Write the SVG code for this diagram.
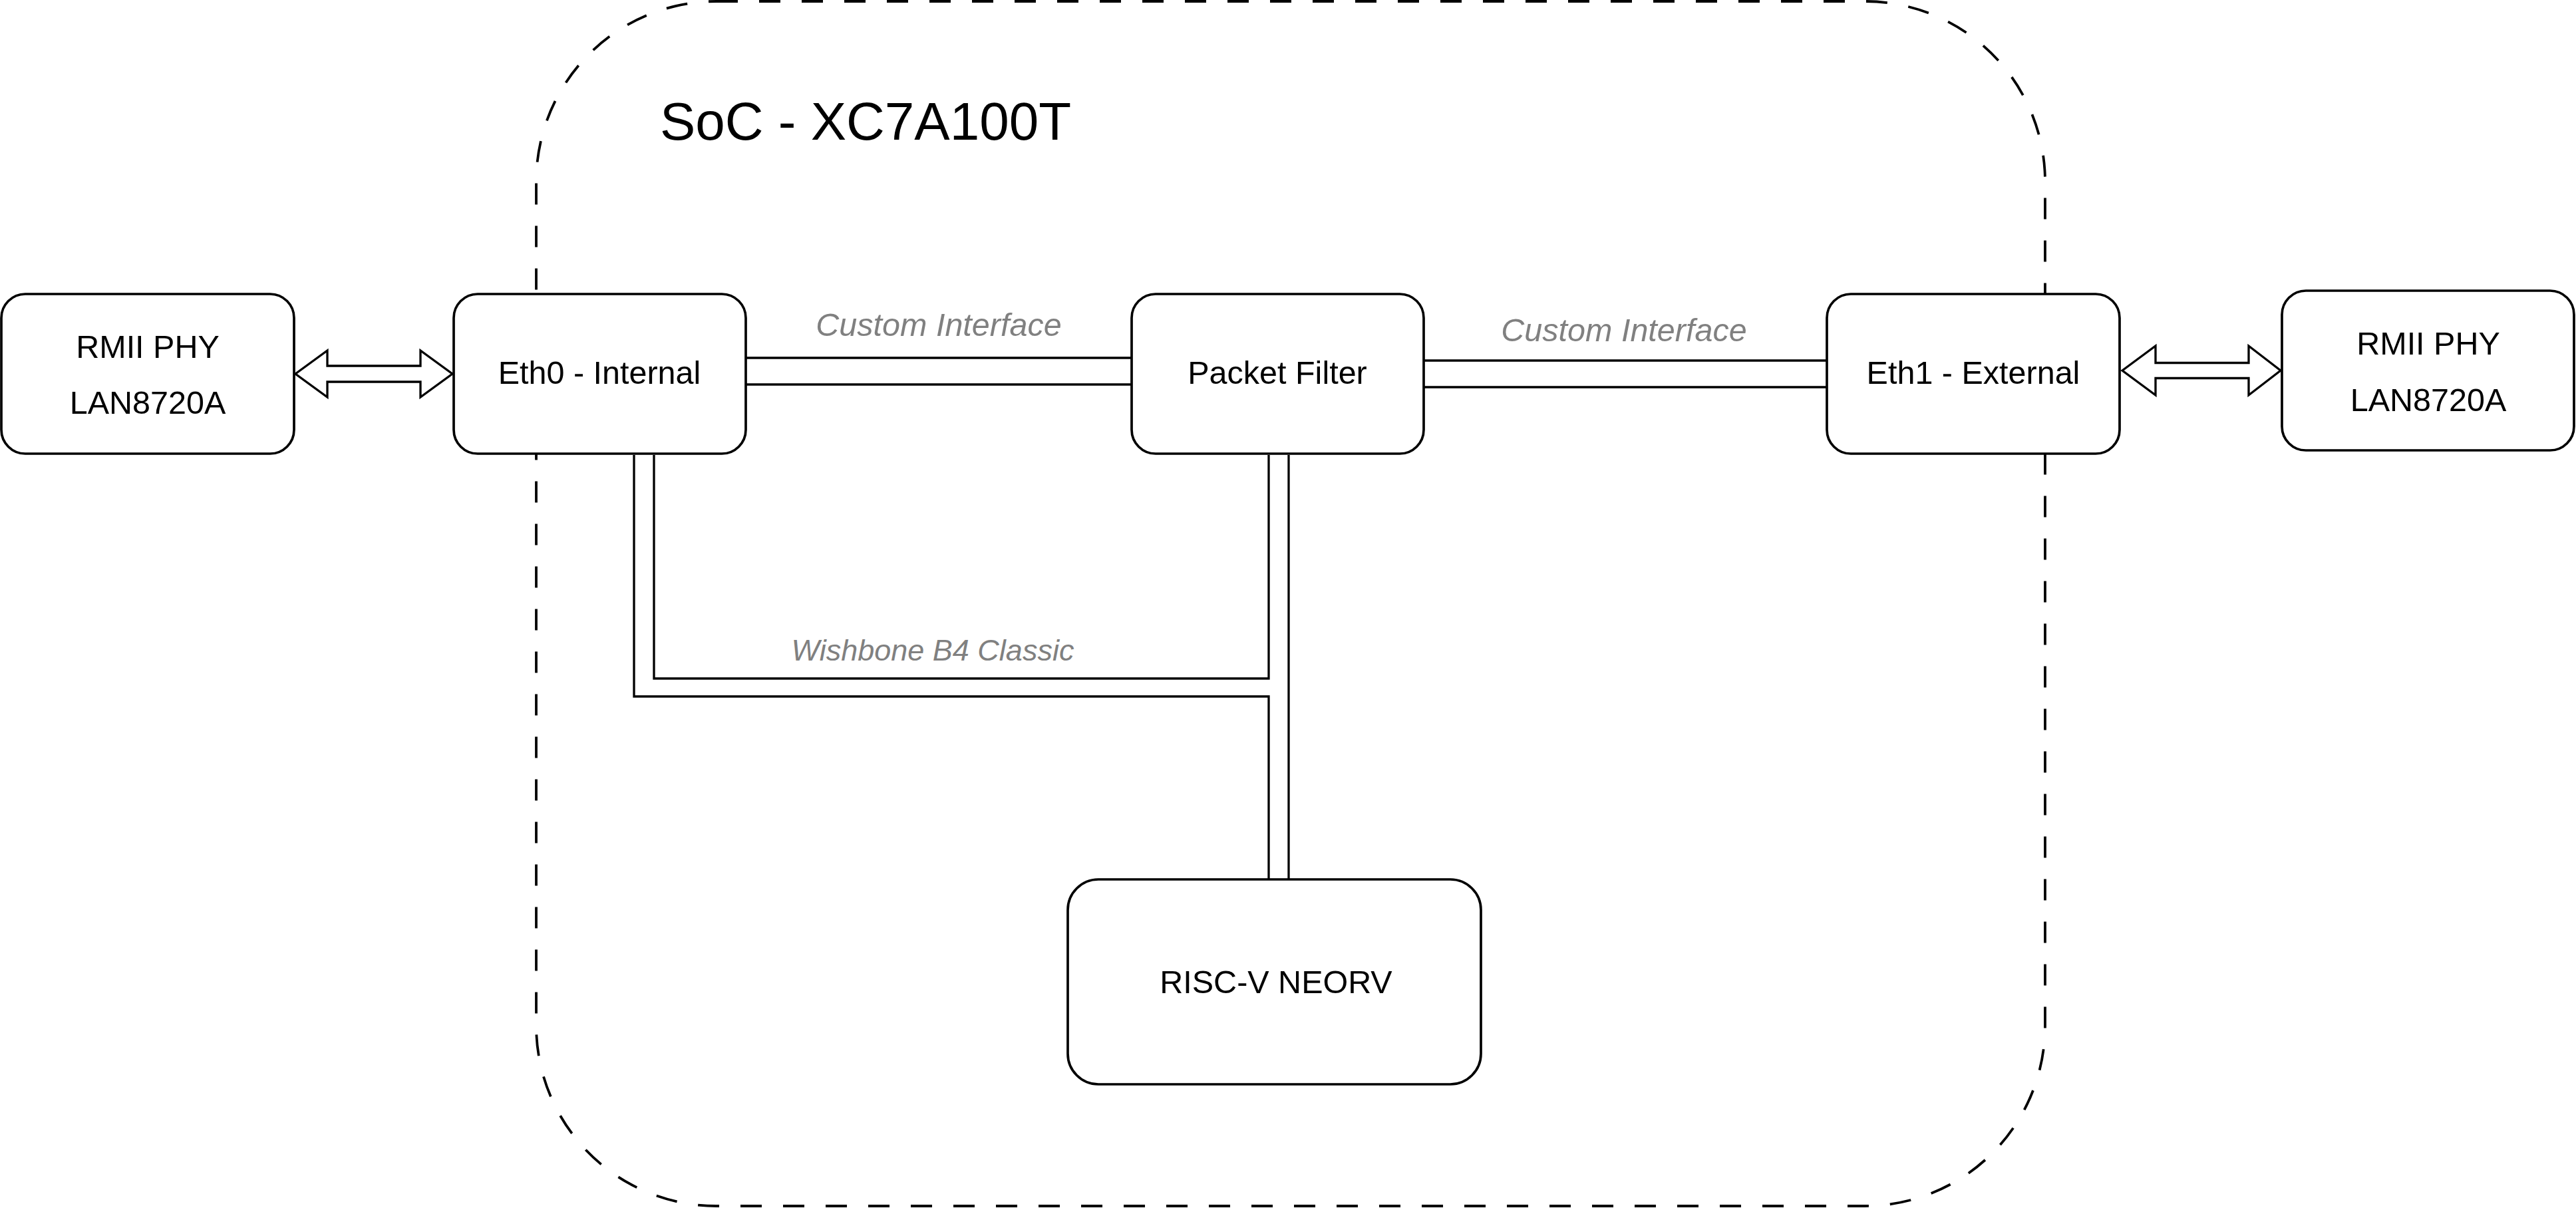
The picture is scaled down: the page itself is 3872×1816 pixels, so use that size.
<svg xmlns="http://www.w3.org/2000/svg" width="3872" height="1816" viewBox="0 0 3872 1816">
<style>
.box{fill:#ffffff;stroke:#000000;stroke-width:3.7}
.lbl{font-family:"Liberation Sans",Arial,sans-serif;font-size:48.5px;fill:#000000;text-anchor:middle}
.elbl{font-family:"Liberation Sans",Arial,sans-serif;font-style:italic;fill:#808080;text-anchor:middle}
.ln{fill:none;stroke:#000000;stroke-width:3.3}
.arr{fill:#ffffff;stroke:#000000;stroke-width:3.3;stroke-linejoin:miter}
.cont{fill:none;stroke:#000000;stroke-width:3.8;stroke-dasharray:32 32}
</style>
<rect width="3872" height="1816" fill="#ffffff"/>
<g id="soc">
<rect class="cont" x="806" y="2" width="2268" height="1811" rx="271" ry="271"/>
<text x="992" y="210" style="font-family:'Liberation Sans',Arial,sans-serif;font-size:80px;fill:#000000">SoC - XC7A100T</text>
</g>
<g id="connectors">
<path class="ln" d="M1121,538 H1701 M1121,578 H1701"/>
<path class="ln" d="M2140,542 H2746 M2140,582 H2746"/>
<path class="ln" d="M953,684 V1047 H1907 V1322"/>
<path class="ln" d="M983,684 V1020 H1907 V684"/>
<path class="ln" d="M1937,684 V1322"/>
<polygon class="arr" points="444,562 492,527 492,550 632,550 632,527 680,562 632,597 632,574 492,574 492,597"/>
<polygon class="arr" points="3190,557 3240,520 3240,545.5 3380,545.5 3380,520 3428,557 3380,594 3380,568.5 3240,568.5 3240,594"/>
<text class="elbl" x="1411" y="505" font-size="48.5">Custom Interface</text>
<text class="elbl" x="2441" y="513" font-size="48.5">Custom Interface</text>
<text class="elbl" x="1402" y="993" font-size="45">Wishbone B4 Classic</text>
</g>
<g id="rmii-left">
<rect class="box" x="2" y="442" width="440" height="240" rx="36" ry="36"/>
<text class="lbl" x="222" y="538">RMII PHY</text>
<text class="lbl" x="222" y="622">LAN8720A</text>
</g>
<g id="eth0">
<rect class="box" x="682" y="442" width="439" height="240" rx="36" ry="36"/>
<text class="lbl" x="901" y="577">Eth0 - Internal</text>
</g>
<g id="packet-filter">
<rect class="box" x="1701" y="442" width="439" height="240" rx="36" ry="36"/>
<text class="lbl" x="1920" y="577">Packet Filter</text>
</g>
<g id="eth1">
<rect class="box" x="2746" y="442" width="440" height="240" rx="36" ry="36"/>
<text class="lbl" x="2966" y="577">Eth1 - External</text>
</g>
<g id="rmii-right">
<rect class="box" x="3430" y="437" width="439" height="240" rx="36" ry="36"/>
<text class="lbl" x="3650" y="533">RMII PHY</text>
<text class="lbl" x="3650" y="618">LAN8720A</text>
</g>
<g id="riscv">
<rect class="box" x="1605" y="1322" width="621" height="308" rx="46" ry="46"/>
<text class="lbl" x="1918" y="1493">RISC-V NEORV</text>
</g>
</svg>
